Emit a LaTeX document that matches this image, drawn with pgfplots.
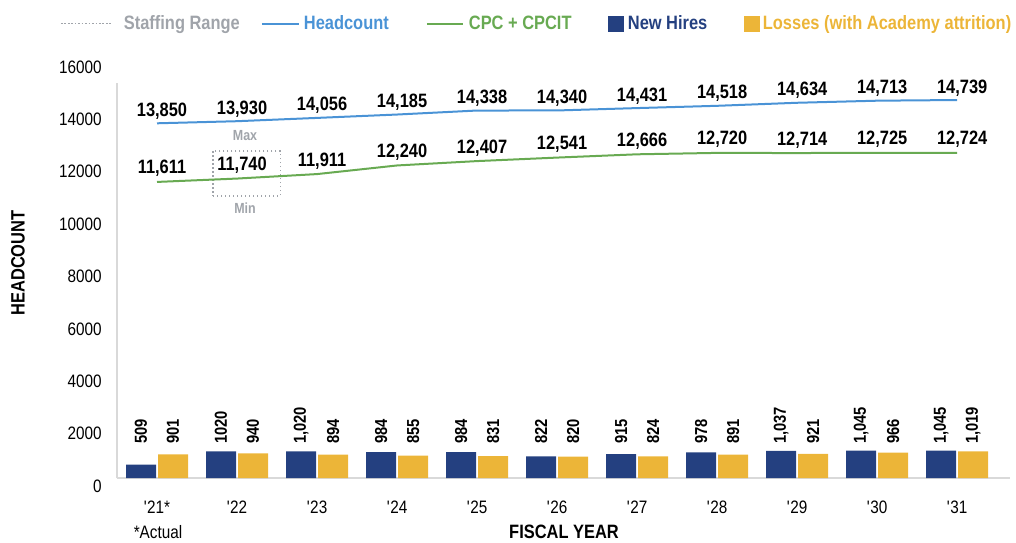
\documentclass[border=0pt]{standalone}
\usepackage{fontspec}
\setmainfont{Liberation Sans}[FakeStretch=0.85]
\usepackage{pgfplots}
\pgfplotsset{compat=1.18}

\definecolor{hcblue}{RGB}{74,147,214}
\definecolor{cpcgreen}{RGB}{104,170,82}
\definecolor{hirenavy}{RGB}{36,64,128}
\definecolor{lossgold}{RGB}{236,181,56}
\definecolor{rangegray}{RGB}{160,164,170}
\definecolor{basegray}{RGB}{217,217,217}

\begin{document}
\begin{tikzpicture}
% page = 1016 x 542 px, 1px = 0.75pt, origin at the axis corner (117,478)
\path[use as bounding box] (-87.75pt,-48pt) rectangle (674.25pt,358.5pt);
\begin{axis}[
    name=ax, at={(0,0)}, anchor=south west,
    scale only axis, width=669.75pt, height=314.25pt,
    xmin=-0.5, xmax=10.66, ymin=0, ymax=16000,
    clip=false,
    axis line style={draw=none},
    major tick length=0pt,
    xtick={0,...,10},
    xticklabels={\textquotesingle21*,\textquotesingle22,\textquotesingle23,\textquotesingle24,\textquotesingle25,\textquotesingle26,\textquotesingle27,\textquotesingle28,\textquotesingle29,\textquotesingle30,\textquotesingle31},
    ytick={0,2000,...,16000},
    scaled y ticks=false,
    /pgf/number format/assume math mode=true,
    /pgf/number format/1000 sep={},
    xticklabel style={anchor=center, yshift=-21.75pt, font=\fontsize{13.5}{15}\selectfont},
    yticklabel style={anchor=east, inner sep=0pt, xshift=-11.25pt, yshift=-6pt, font=\fontsize{13.5}{15}\selectfont},
    legend columns=5,
    legend cell align=left,
    legend style={at={(-0.0638,1.0845)}, anchor=west, draw=none, fill=none,
        inner sep=0pt, outer sep=0pt, nodes={inner sep=0pt},
        /tikz/every even column/.style={column sep=0pt},
        /tikz/every odd column/.style={column sep=0pt},
        font=\bfseries\fontsize{14.5}{16}\selectfont},
]
  % axis lines
  \draw[basegray, line width=1.2pt] (axis cs:-0.5,0) -- (axis cs:-0.5,15100);
  \draw[basegray, line width=1.2pt] (axis cs:-0.5,0) -- (axis cs:10.66,0);

  % staffing range box around FY22
  \addplot[rangegray, line width=1pt, dash pattern=on 1pt off 2pt,
    legend image code/.code={
      \draw[rangegray, line width=1.3pt, dash pattern=on 1.3pt off 1.3pt] (0pt,0pt) -- (37.5pt,0pt);
      \path[draw=none, fill=none] (0pt,-6pt) rectangle (47.25pt,6pt);}]
    coordinates {(0.70,10770) (1.54,10770) (1.54,12490) (0.70,12490) (0.70,10770)};
  \addlegendentry{\makebox[102.75pt][l]{\textcolor{rangegray}{Staffing Range}}}

  % headcount (plot options carry yshift=-6pt, so the legend line is drawn at +6pt)
  \addplot[hcblue, line width=1.5pt, yshift=-6pt,
    nodes near coords, point meta=explicit symbolic,
    nodes near coords style={anchor=south, inner sep=0pt, xshift=3.75pt, yshift=2.25pt,
        text=black, font=\bfseries\fontsize{14.5}{16}\selectfont},
    legend image code/.code={
      \draw[hcblue, line width=1.5pt] (0pt,6pt) -- (27.75pt,6pt);
      \path[draw=none, fill=none] (0pt,0pt) rectangle (31.5pt,12pt);}]
    coordinates {
      (0,13850)[13,850] (1,13930)[13,930] (2,14056)[14,056] (3,14185)[14,185]
      (4,14338)[14,338] (5,14340)[14,340] (6,14431)[14,431] (7,14518)[14,518]
      (8,14634)[14,634] (9,14713)[14,713] (10,14739)[14,739]
    };
  \addlegendentry{\makebox[91.5pt][l]{\textcolor{hcblue}{Headcount}}}

  % CPC + CPCIT
  \addplot[cpcgreen, line width=1.5pt, yshift=-6pt,
    nodes near coords, point meta=explicit symbolic,
    nodes near coords style={anchor=south, inner sep=0pt, xshift=3.75pt, yshift=3pt,
        text=black, font=\bfseries\fontsize{14.5}{16}\selectfont},
    legend image code/.code={
      \draw[cpcgreen, line width=1.5pt] (0pt,6pt) -- (27pt,6pt);
      \path[draw=none, fill=none] (0pt,0pt) rectangle (31.5pt,12pt);}]
    coordinates {
      (0,11611)[11,611] (1,11740)[11,740] (2,11911)[11,911] (3,12240)[12,240]
      (4,12407)[12,407] (5,12541)[12,541] (6,12666)[12,666] (7,12720)[12,720]
      (8,12714)[12,714] (9,12725)[12,725] (10,12724)[12,724]
    };
  \addlegendentry{\makebox[104.25pt][l]{\textcolor{cpcgreen}{CPC + CPCIT}}}

  % new hires
  \addplot[ybar, bar width=22.5pt, bar shift=-12pt, fill=hirenavy, draw=none,
    legend image code/.code={
      \fill[hirenavy] (0pt,-6pt) rectangle (12pt,6pt);
      \path[draw=none, fill=none] (0pt,0pt) -- (15pt,0pt);}]
    coordinates {
      (0,509) (1,1020) (2,1020) (3,984) (4,984) (5,822)
      (6,915) (7,978) (8,1037) (9,1045) (10,1045)
    };
  \addlegendentry{\makebox[87pt][l]{\textcolor{hirenavy}{New Hires}}}

  % losses
  \addplot[ybar, bar width=22.5pt, bar shift=12pt, fill=lossgold, draw=none,
    legend image code/.code={
      \fill[lossgold] (0pt,-6pt) rectangle (12pt,6pt);
      \path[draw=none, fill=none] (0pt,0pt) -- (14.25pt,0pt);}]
    coordinates {
      (0,901) (1,940) (2,894) (3,855) (4,831) (5,820)
      (6,824) (7,891) (8,921) (9,966) (10,1019)
    };
  \addlegendentry{\textcolor{lossgold}{Losses (with Academy attrition)}}

  % bar value labels (set at a fixed height above the bars)
  \addplot[draw=none, forget plot, nodes near coords, point meta=explicit symbolic,
    nodes near coords style={rotate=90, anchor=west, inner sep=0pt, text=black,
        font=\bfseries\fontsize{13}{14}\selectfont}]
    coordinates {
      (-0.2,1300)[509] (0.8,1300)[1020] (1.8,1300)[1,020] (2.8,1300)[984]
      (3.8,1300)[984] (4.8,1300)[822] (5.8,1300)[915] (6.8,1300)[978]
      (7.8,1300)[1,037] (8.8,1300)[1,045] (9.8,1300)[1,045]
    };
  \addplot[draw=none, forget plot, nodes near coords, point meta=explicit symbolic,
    nodes near coords style={rotate=90, anchor=west, inner sep=0pt, text=black,
        font=\bfseries\fontsize{13}{14}\selectfont}]
    coordinates {
      (0.2,1300)[901] (1.2,1300)[940] (2.2,1300)[894] (3.2,1300)[855]
      (4.2,1300)[831] (5.2,1300)[820] (6.2,1300)[824] (7.2,1300)[891]
      (8.2,1300)[921] (9.2,1300)[966] (10.2,1300)[1,019]
    };

  \node[text=rangegray, font=\bfseries\fontsize{11}{12}\selectfont] at (axis cs:1.1,13060) {Max};
  \node[text=rangegray, font=\bfseries\fontsize{11}{12}\selectfont] at (axis cs:1.1,10310) {Min};
\end{axis}

\node[rotate=90, font=\bfseries\fontsize{14.5}{16}\selectfont] at (-74.25pt,161.25pt) {HEADCOUNT};
\node[font=\bfseries\fontsize{14.5}{16}\selectfont] at (335.25pt,-40.5pt) {FISCAL YEAR};
\node[font=\fontsize{13.5}{15}\selectfont] at (30.75pt,-40.5pt) {*Actual};
\end{tikzpicture}
\end{document}
